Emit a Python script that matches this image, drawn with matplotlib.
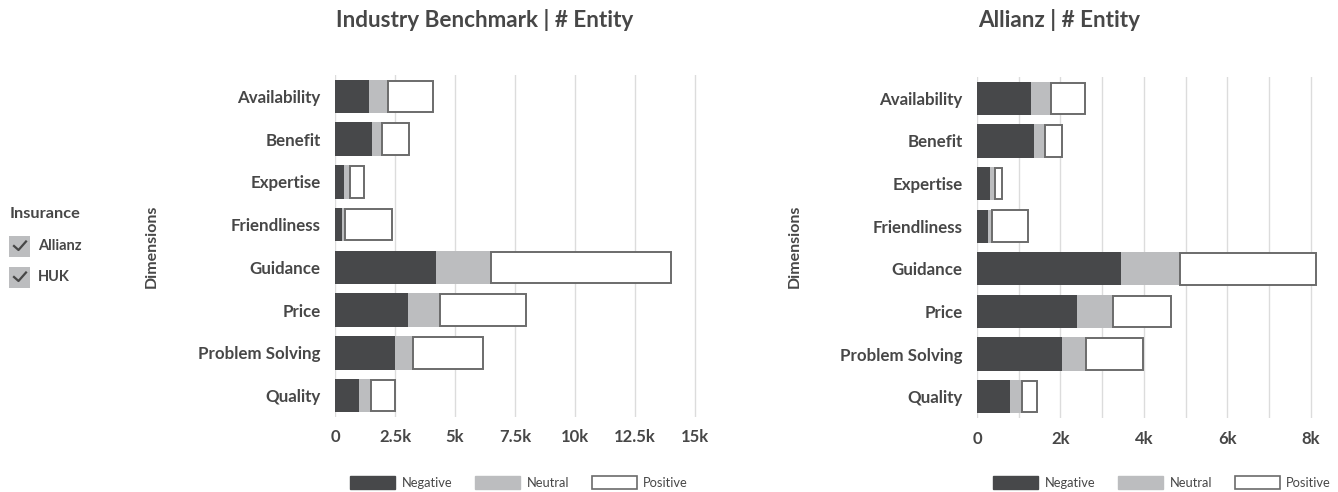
import matplotlib
matplotlib.use("Agg")
import matplotlib.pyplot as plt
from matplotlib.patches import Patch, Rectangle
from matplotlib.lines import Line2D
from matplotlib.ticker import FuncFormatter, MultipleLocator

plt.rcParams['font.family'] = ['Lato', 'DejaVu Sans']

categories = ["Availability", "Benefit", "Expertise", "Friendliness",
              "Guidance", "Price", "Problem Solving", "Quality"]

# Industry Benchmark (values in entities)
bench_neg = [1400, 1550, 380, 290, 4210, 3030, 2500, 980]
bench_neu = [790, 420, 230, 110, 2290, 1360, 730, 530]
bench_pos = [1880, 1100, 580, 1970, 7480, 3570, 2940, 970]

# Allianz
allz_neg = [1290, 1360, 320, 260, 3450, 2400, 2040, 780]
allz_neu = [480, 270, 100, 100, 1420, 860, 570, 310]
allz_pos = [810, 400, 190, 870, 3250, 1380, 1360, 340]

series_names = ["Negative", "Neutral", "Positive"]
titles = ["Industry Benchmark | # Entity", "Allianz | # Entity"]
filter_title = "Insurance"
filter_items = ["Allianz", "HUK"]

C_NEG = "#47484a"
C_NEU = "#bcbdbf"
C_POS = "#ffffff"
C_EDGE = "#6b6b6b"
C_TXT = "#474747"
C_GRID = "#dcdcdc"

W, H = 1338, 492
fig = plt.figure(figsize=(W / 100, H / 100), dpi=100)


def px_axes(x0, x1, y0, y1):
    return fig.add_axes([x0 / W, 1 - y1 / H, (x1 - x0) / W, (y1 - y0) / H])


def kfmt(v, _):
    if v == 0:
        return "0"
    s = f"{v / 1000:.1f}".rstrip("0").rstrip(".")
    return s + "k"


def draw(ax, neg, neu, pos, xmax, major, minor):
    y = list(range(len(categories)))
    left2 = [a + b for a, b in zip(neg, neu)]
    ax.barh(y, neg, height=0.78, color=C_NEG, zorder=3)
    ax.barh(y, neu, left=neg, height=0.78, color=C_NEU, zorder=3)
    ax.barh(y, pos, left=left2, height=0.74, color=C_POS,
            edgecolor=C_EDGE, linewidth=1.4, zorder=3)
    ax.set_yticks(y)
    ax.set_yticklabels(categories)
    ax.set_ylim(len(categories) - 0.5, -0.5)
    ax.set_xlim(0, xmax)
    ax.xaxis.set_major_locator(MultipleLocator(major))
    ax.xaxis.set_minor_locator(MultipleLocator(minor))
    ax.xaxis.set_major_formatter(FuncFormatter(kfmt))
    ax.grid(axis="x", which="both", color=C_GRID, linewidth=1, zorder=0)
    ax.set_axisbelow(True)
    for s in ax.spines.values():
        s.set_visible(False)
    ax.tick_params(axis="both", which="both", length=0, colors=C_TXT)
    ax.tick_params(axis="y", pad=10.5)
    ax.tick_params(axis="x", pad=9)
    for lab in ax.get_yticklabels():
        lab.set_fontsize(12.2)
        lab.set_fontweight("bold")
        lab.set_color(C_TXT)
    for lab in ax.get_xticklabels():
        lab.set_fontsize(12)
        lab.set_fontweight("bold")
        lab.set_color(C_TXT)


ax1 = px_axes(335, 707, 75, 417)
draw(ax1, bench_neg, bench_neu, bench_pos, 15500, 2500, 2500)
ax2 = px_axes(977, 1319, 77, 418)
draw(ax2, allz_neg, allz_neu, allz_pos, 8200, 2000, 1000)

# Titles (left-aligned with the plotting area)
fig.text(336 / W, 1 - 20 / H, titles[0], ha="left", va="center",
         fontsize=16.2, fontweight="bold", color=C_TXT)
fig.text(978 / W, 1 - 20 / H, titles[1], ha="left", va="center",
         fontsize=16.2, fontweight="bold", color=C_TXT)

# y-axis titles
for xp in (152, 795):
    fig.text(xp / W, 1 - 246 / H, "Dimensions", rotation=90, ha="center",
             va="center", fontsize=11.5, fontweight="bold", color=C_TXT)

# Legends
handles = [Patch(facecolor=C_NEG, edgecolor=C_NEG),
           Patch(facecolor=C_NEU, edgecolor=C_NEU),
           Patch(facecolor=C_POS, edgecolor=C_EDGE, linewidth=1.2)]
for xp in (350, 993):
    leg = fig.legend(handles, series_names, loc="lower left",
                     bbox_to_anchor=(xp / W, 1 - 489 / H), ncol=3,
                     frameon=False, fontsize=9.3, handlelength=3.5,
                     handleheight=1.15, handletextpad=0.5, columnspacing=1.75,
                     borderpad=0.0, borderaxespad=0.0)
    for t in leg.get_texts():
        t.set_color(C_TXT)

# Filter panel (left)
ov = fig.add_axes([0, 0, 1, 1], zorder=-1)
ov.set_xlim(0, W)
ov.set_ylim(H, 0)
ov.axis("off")
ov.text(10, 214, filter_title, ha="left", va="center", fontsize=11.8,
        fontweight="bold", color=C_TXT)
for i, name in enumerate(filter_items):
    yc = 246 + i * 31
    ov.add_patch(Rectangle((9, yc - 10.5), 21, 21, facecolor="#bcbdbf",
                           edgecolor="none"))
    ov.add_line(Line2D([14, 18.5, 26], [yc, yc + 4, yc - 4.5],
                       color=C_TXT, linewidth=1.6))
    ov.text(38, yc, name, ha="left", va="center", fontsize=10.5,
            fontweight="bold", color=C_TXT)

fig.savefig("out.png", dpi=100)
